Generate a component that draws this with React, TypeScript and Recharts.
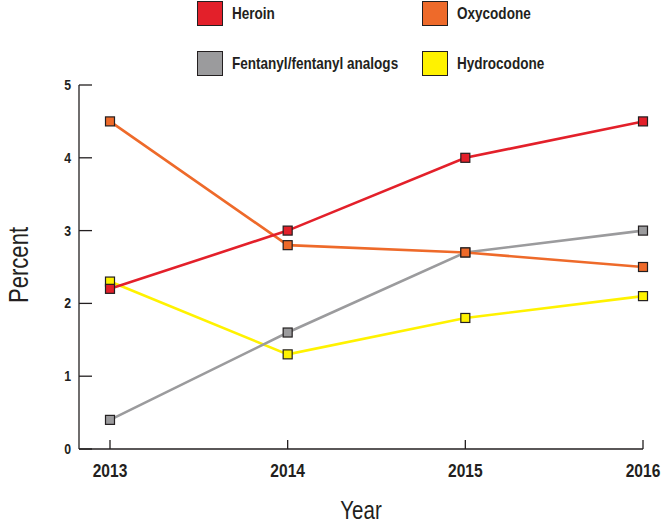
import React from 'react';
import { LineChart, Line, XAxis, YAxis } from 'recharts';

const years = ['2013', '2014', '2015', '2016'];
const heroin = [2.2, 3.0, 4.0, 4.5];
const oxycodone = [4.5, 2.8, 2.7, 2.5];
const fentanyl = [0.4, 1.6, 2.7, 3.0];
const hydrocodone = [2.3, 1.3, 1.8, 2.1];
const yTicks = [0, 1, 2, 3, 4, 5];

const series = [
  { key: 'hydrocodone', name: 'Hydrocodone', color: '#fff200', values: hydrocodone },
  { key: 'fentanyl', name: 'Fentanyl/fentanyl analogs', color: '#9b9b9d', values: fentanyl },
  { key: 'oxycodone', name: 'Oxycodone', color: '#ee6a2a', values: oxycodone },
  { key: 'heroin', name: 'Heroin', color: '#e3202a', values: heroin },
];

// legend order, two columns
const legendOrder = ['heroin', 'oxycodone', 'fentanyl', 'hydrocodone'];

const data = years.map((year, i) => {
  const row: Record<string, any> = { year };
  series.forEach((s) => (row[s.key] = s.values[i]));
  return row;
});

// no narrow font installed, so squeeze Liberation Sans horizontally
const FONT = "'Liberation Sans', Arial, sans-serif";
const NARROW = 0.82;
const INK = '#231f20';

const NText = ({ x, y, rotate = 0, children, ...rest }: any) => (
  <text transform={`translate(${x},${y}) rotate(${rotate}) scale(${NARROW},1)`} fontFamily={FONT} fill={INK} {...rest}>
    {children}
  </text>
);

const SquareDot = (color: string) => (props: any) => {
  const { cx, cy, index } = props;
  if (cx == null || cy == null) return <g key={index} />;
  return (
    <rect key={index} x={cx - 4.5} y={cy - 4.5} width={9} height={9} fill={color} stroke={INK} strokeWidth={1.2} />
  );
};

const YTick = (props: any) => {
  const { x, y, payload } = props;
  return (
    <g>
      <line x1={x} x2={x + 13} y1={y} y2={y} stroke={INK} strokeWidth={1.3} />
      <NText x={x - 8} y={y + 5} textAnchor="end" fontWeight="bold" fontSize={15}>
        {payload.value}
      </NText>
    </g>
  );
};

const XTick = (props: any) => {
  const { x, y, payload } = props;
  return (
    <g>
      <line x1={x} x2={x} y1={y} y2={y - 9} stroke={INK} strokeWidth={1.3} />
      <NText x={x} y={y + 28} textAnchor="middle" fontWeight="bold" fontSize={19}>
        {payload.value}
      </NText>
    </g>
  );
};

export default function App() {
  return (
    <div style={{ position: 'relative', width: 661, height: 523, background: '#fff', overflow: 'hidden' }}>
      <style>{`body{margin:0}`}</style>
      {legendOrder.map((k, i) => {
        const s = series.find((d) => d.key === k)!;
        const col = i % 2;
        const row = Math.floor(i / 2);
        return (
          <div
            key={k}
            style={{
              position: 'absolute',
              left: col === 0 ? 197 : 422,
              top: row === 0 ? 1 : 51,
              display: 'flex',
              alignItems: 'center',
              fontFamily: FONT,
              fontWeight: 'bold',
              fontSize: 16.5,
              color: INK,
              whiteSpace: 'nowrap',
            }}
          >
            <span
              style={{
                display: 'inline-block',
                width: 24,
                height: 23,
                background: s.color,
                border: `1px solid ${INK}`,
                marginRight: 9,
              }}
            />
            <span style={{ display: 'inline-block', transform: `scaleX(${NARROW})`, transformOrigin: 'left center' }}>
              {s.name}
            </span>
          </div>
        );
      })}
      <LineChart width={661} height={523} data={data} margin={{ top: 85, right: 18, bottom: 0, left: 0 }}>
        <XAxis
          dataKey="year"
          height={74}
          padding={{ left: 31, right: 0 }}
          tickSize={0}
          tickMargin={0}
          tickLine={false}
          tick={<XTick />}
          axisLine={{ stroke: INK, strokeWidth: 1.3 }}
          interval={0}
          label={(p: any) => {
            const vb = p.viewBox;
            return (
              <NText x={vb.x + vb.width / 2} y={vb.y + 70} textAnchor="middle" fontSize={25}>
                Year
              </NText>
            );
          }}
        />
        <YAxis
          width={79}
          domain={[0, 5]}
          ticks={yTicks}
          tickSize={0}
          tickMargin={0}
          tickLine={false}
          tick={<YTick />}
          axisLine={{ stroke: INK, strokeWidth: 1.3 }}
          label={(p: any) => {
            const vb = p.viewBox;
            return (
              <NText
                x={19}
                y={vb.y + vb.height / 2 - 2}
                rotate={-90}
                textAnchor="middle"
                dominantBaseline="central"
                fontSize={27}
              >
                Percent
              </NText>
            );
          }}
        />
        {series.map((s) => (
          <Line
            key={s.key}
            dataKey={s.key}
            name={s.name}
            type="linear"
            stroke={s.color}
            strokeWidth={2.6}
            dot={SquareDot(s.color)}
            activeDot={false}
            isAnimationActive={false}
          />
        ))}
      </LineChart>
    </div>
  );
}
